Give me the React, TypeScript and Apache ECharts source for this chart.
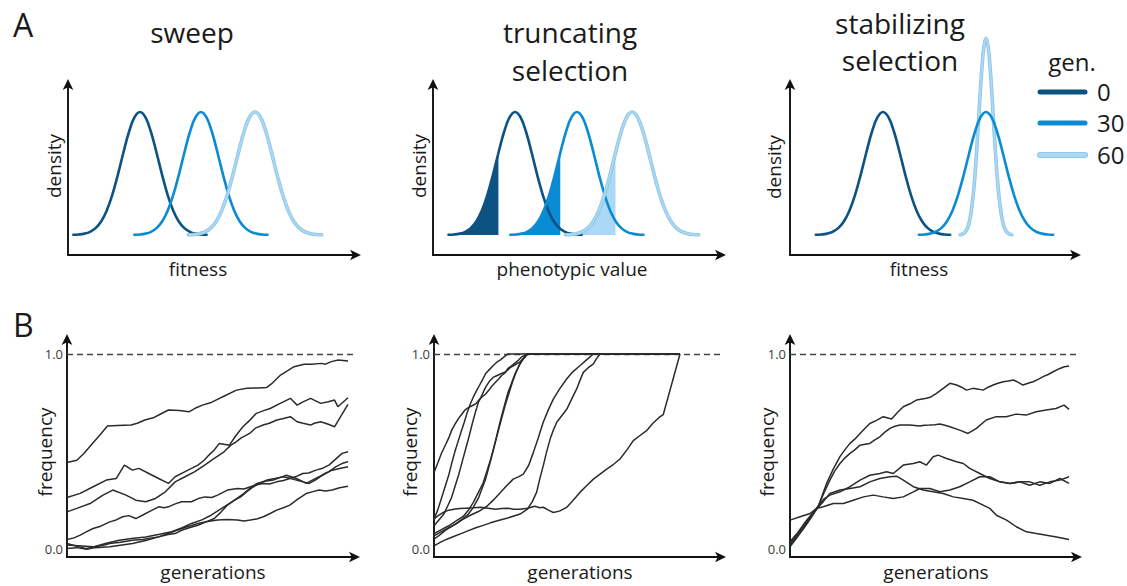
import React, { useEffect, useRef } from 'react';
import * as echarts from 'echarts';

// ---------- data ----------
// standard bell profile (z in sd units, relative height)
const bellZ = [-3.6, -3.3, -3.0, -2.7, -2.4, -2.1, -1.8, -1.5, -1.2, -0.9, -0.6, -0.3, 0, 0.3, 0.6, 0.9, 1.2, 1.5, 1.8, 2.1, 2.4, 2.7, 3.0, 3.3, 3.6];
const bellH = [0.0015, 0.0043, 0.0111, 0.0261, 0.0561, 0.1103, 0.1979, 0.3247, 0.4868, 0.667, 0.8353, 0.956, 1, 0.956, 0.8353, 0.667, 0.4868, 0.3247, 0.1979, 0.1103, 0.0561, 0.0261, 0.0111, 0.0043, 0.0015];

const generations = ['0', '30', '60'];

const sweepCenters = [24.9, 46.0, 64.7];
const sweepSd = [6.4, 6.4, 6.4];
const sweepHeight = [1, 1, 1];

const truncCenters = [28.4, 49.8, 68.9];
const truncSd = [6.4, 6.4, 6.4];
const truncHeight = [1, 1, 1];
const truncCutZ = -0.9;

const stabCenters = [32.4, 68.3, 68.3];
const stabSd = [6.5, 6.5, 2.5];
const stabHeight = [1, 1, 1.6];

const yTickValues = [0, 1];

const sweepRuns: number[][][] = [
  [[0,0.444],[3.5,0.456],[6,0.49],[9,0.54],[12,0.59],[14.4,0.631],[18,0.634],[22.8,0.636],[25,0.645],[27.7,0.662],[31,0.675],[33,0.69],[36.1,0.713],[40,0.71],[43.4,0.704],[46,0.725],[48.2,0.738],[51,0.75],[53,0.764],[56,0.785],[60.3,0.815],[64,0.824],[68,0.826],[71.1,0.829],[73,0.85],[76,0.892],[78,0.91],[80.8,0.935],[84.4,0.947],[87,0.947],[90.5,0.952],[92,0.948],[94.1,0.961],[96.5,0.969],[100,0.964]],
  [[0,0.265],[4.7,0.286],[9.3,0.32],[14,0.354],[17.5,0.362],[20.4,0.431],[23.3,0.405],[25.6,0.414],[29.1,0.388],[32.6,0.362],[36.1,0.337],[38.5,0.371],[42,0.397],[46.6,0.431],[48.9,0.457],[50.5,0.482],[52.4,0.508],[54.2,0.542],[57.8,0.533],[60,0.58],[62.6,0.627],[65,0.66],[67.4,0.696],[70,0.71],[72.3,0.721],[75.9,0.747],[79.5,0.773],[81.9,0.738],[84,0.755],[86.7,0.773],[90.3,0.747],[93,0.755],[95.2,0.764],[96.4,0.73],[100,0.776]],
  [[0,0.191],[3.5,0.209],[8.2,0.234],[12.8,0.277],[16.3,0.303],[21,0.277],[24.5,0.251],[28,0.243],[31.5,0.26],[35,0.294],[38.5,0.345],[42,0.371],[45.5,0.397],[49,0.431],[52.4,0.465],[55.9,0.499],[58.3,0.533],[60.2,0.55],[62,0.57],[65,0.593],[67,0.62],[69.8,0.636],[72,0.645],[74.7,0.662],[77,0.67],[79.5,0.679],[81.9,0.653],[84,0.645],[86.7,0.636],[88,0.645],[90.3,0.653],[93,0.64],[95.2,0.627],[97,0.67],[100,0.742]],
  [[0,0.05],[2.5,0.058],[4.7,0.072],[7,0.09],[9.3,0.106],[12,0.118],[15.2,0.14],[17.5,0.15],[19.8,0.166],[22,0.172],[24.5,0.157],[27,0.175],[29.1,0.191],[32.6,0.217],[34.5,0.212],[36.1,0.217],[38.5,0.232],[40.8,0.243],[44.3,0.243],[46.5,0.258],[49,0.268],[51.5,0.265],[53.6,0.277],[57.1,0.303],[60.6,0.311],[63,0.308],[65.3,0.32],[67.5,0.33],[69.9,0.337],[72,0.334],[74.6,0.345],[77,0.352],[79.3,0.362],[81.5,0.372],[83.9,0.388],[86,0.39],[88.6,0.405],[91,0.415],[93.2,0.431],[95.5,0.46],[97.9,0.491],[100,0.499]],
  [[0,0.029],[3.5,0.015],[7,0.003],[10,0.012],[13,0.02],[15.2,0.029],[19,0.035],[23.3,0.046],[27,0.05],[30,0.058],[32.6,0.063],[36,0.075],[38.5,0.08],[40.8,0.097],[43.5,0.11],[46.6,0.123],[49.5,0.14],[52.4,0.157],[54.8,0.19],[57.1,0.226],[59.5,0.25],[61.8,0.268],[64,0.295],[66.4,0.32],[68.8,0.34],[71.1,0.354],[74,0.362],[76.9,0.371],[79,0.365],[81.6,0.354],[84,0.345],[86.2,0.337],[88.5,0.355],[90.9,0.379],[93,0.395],[95.6,0.422],[98,0.44],[100,0.448]],
  [[0,0.021],[4,0.018],[9.3,0.012],[14,0.03],[18.6,0.046],[23,0.055],[28,0.063],[32.5,0.075],[37.3,0.089],[41,0.11],[44.3,0.132],[48,0.15],[51.3,0.174],[53.5,0.195],[55.9,0.217],[59.5,0.25],[62.9,0.285],[65.3,0.315],[67.6,0.337],[70.5,0.348],[73.4,0.354],[76,0.368],[78.1,0.379],[80,0.37],[81.6,0.362],[83.5,0.35],[85.1,0.337],[87.5,0.355],[89.7,0.371],[92,0.39],[94.4,0.405],[97,0.413],[100,0.422]],
  [[0,0.003],[3.5,0.008],[7,0],[10,0.008],[15.2,0.012],[19,0.02],[23.3,0.029],[28,0.045],[32.6,0.063],[36.5,0.083],[40.8,0.106],[44,0.12],[46.6,0.132],[50,0.142],[53.6,0.149],[57,0.152],[60.6,0.149],[63,0.145],[65.3,0.149],[67.5,0.155],[69.9,0.166],[72.3,0.183],[74.6,0.2],[77,0.212],[79.3,0.226],[82,0.255],[85.1,0.285],[87.5,0.295],[89.7,0.303],[92,0.298],[94.4,0.303],[97,0.315],[100,0.323]],
];

const truncRuns: number[][][] = [
  [[0,0.393],[1.5,0.44],[3,0.49],[4.5,0.53],[6,0.57],[7.2,0.61],[8.5,0.64],[10,0.67],[11.2,0.69],[12.5,0.712],[14,0.725],[15.5,0.735],[17,0.745],[18.3,0.765],[19.5,0.78],[21,0.795],[22,0.81],[23.5,0.835],[25,0.855],[26.3,0.872],[27.5,0.89],[29,0.905],[30,0.925],[31.5,0.94],[33,0.955],[34.5,0.97],[35.6,0.985],[38.4,1],[100,1]],
  [[0,0.154],[1.5,0.2],[3,0.26],[4.5,0.32],[6,0.38],[7.2,0.44],[8.5,0.5],[10,0.56],[11,0.6],[12.3,0.65],[13.5,0.7],[14.8,0.745],[16,0.78],[17.2,0.81],[18.5,0.84],[19.8,0.87],[21,0.9],[22.5,0.92],[24,0.94],[25.5,0.958],[27,0.97],[28.5,0.985],[30,1],[100,1]],
  [[0,0.12],[2,0.15],[4,0.18],[5.5,0.22],[7,0.26],[8.5,0.32],[10,0.38],[11.5,0.45],[13,0.52],[14.3,0.58],[15.5,0.64],[16.8,0.7],[18,0.75],[19.5,0.79],[21,0.83],[22.5,0.86],[24,0.88],[25.7,0.89],[27.5,0.9],[29.2,0.91],[31,0.93],[33,0.945],[35,0.96],[36.5,0.98],[38,1],[100,1]],
  [[0,0.051],[2.5,0.075],[5,0.1],[7.5,0.12],[10,0.14],[12,0.16],[14,0.18],[16,0.215],[18,0.26],[19.5,0.31],[21,0.36],[22.5,0.43],[24,0.5],[25.5,0.58],[27,0.66],[28.5,0.73],[30,0.8],[31.5,0.85],[33,0.9],[34.5,0.94],[36,0.97],[38,1],[100,1]],
  [[0,0.08],[3,0.1],[6,0.12],[9,0.145],[12,0.17],[14,0.2],[16,0.24],[18,0.29],[20,0.34],[21.5,0.4],[23,0.46],[24.5,0.53],[26,0.6],[27.5,0.67],[29,0.74],[30.5,0.8],[32,0.86],[33.5,0.91],[35,0.95],[36.5,0.98],[38,1],[100,1]],
  [[0,0.068],[3,0.09],[6,0.11],[9,0.13],[11.9,0.154],[15,0.175],[18.7,0.197],[21.5,0.22],[24,0.25],[27,0.29],[29.5,0.325],[32.2,0.359],[34.5,0.372],[36.3,0.385],[38.5,0.43],[40.4,0.496],[42.5,0.575],[44.4,0.65],[46.5,0.715],[48.5,0.769],[51,0.82],[53.9,0.872],[56.5,0.91],[59.3,0.94],[62,0.97],[64.8,1],[100,1]],
  [[0,0.017],[2.5,0.035],[5,0.05],[8,0.065],[11,0.08],[14,0.095],[17,0.11],[20,0.122],[23,0.135],[26.5,0.148],[30,0.16],[32.5,0.17],[35,0.18],[38,0.205],[40,0.245],[41.7,0.291],[43,0.36],[44.4,0.427],[45.8,0.5],[47.2,0.564],[48.5,0.61],[49.9,0.65],[52,0.685],[54,0.718],[56,0.77],[58,0.821],[59.5,0.87],[60.7,0.906],[62.7,0.93],[64.8,0.949],[66,0.975],[67.5,1],[100,1]],
  [[0,0.154],[2,0.175],[4,0.19],[6,0.2],[8,0.205],[10.5,0.208],[13,0.21],[16,0.212],[19,0.215],[22,0.21],[25,0.205],[27.5,0.208],[30,0.21],[32.5,0.205],[35,0.205],[38,0.21],[41,0.22],[43,0.212],[44.4,0.215],[46.5,0.2],[48.5,0.188],[51,0.195],[53.9,0.214],[56.5,0.25],[59.3,0.291],[62,0.325],[64.8,0.359],[67.5,0.385],[70.2,0.41],[73,0.435],[75.6,0.462],[78.5,0.51],[81,0.556],[83.5,0.58],[86.4,0.607],[89,0.645],[91.5,0.675],[93.2,0.69],[100,1]],
];

const stabRuns: number[][][] = [
  [[0,0.012],[2.5,0.06],[5,0.11],[7.5,0.16],[10.1,0.217],[13.1,0.337],[15.5,0.41],[17.9,0.474],[19.7,0.51],[21.5,0.542],[23.3,0.565],[25.1,0.593],[26.9,0.62],[28.6,0.644],[31,0.66],[33.4,0.679],[36.4,0.667],[38.5,0.7],[40.6,0.73],[43,0.745],[45.3,0.764],[48.9,0.773],[50.5,0.78],[52.5,0.798],[54.9,0.824],[57.3,0.85],[59.7,0.841],[61.5,0.83],[63.2,0.815],[65.6,0.824],[67.5,0.82],[69.2,0.815],[71,0.83],[72.8,0.841],[74.5,0.85],[76.4,0.858],[78.2,0.862],[80,0.867],[81.8,0.855],[83.5,0.841],[85.3,0.85],[87.1,0.858],[88.9,0.87],[90.7,0.884],[92.5,0.895],[94.3,0.909],[96.7,0.926],[98.3,0.935],[100,0.938]],
  [[0,0.038],[2.5,0.08],[5,0.13],[7.5,0.175],[10.1,0.22],[12.2,0.29],[14.3,0.354],[16,0.4],[17.9,0.439],[19.7,0.468],[21.5,0.491],[23.3,0.51],[25.1,0.533],[26.9,0.538],[28.6,0.542],[30.4,0.56],[32.2,0.576],[34,0.6],[35.8,0.619],[37.6,0.63],[39.4,0.636],[42.9,0.636],[46.5,0.631],[48.2,0.635],[50.1,0.636],[51.9,0.638],[53.7,0.641],[55.5,0.635],[57.3,0.627],[60.8,0.61],[63.8,0.593],[66.8,0.619],[70.3,0.662],[73.9,0.679],[77.5,0.679],[81,0.692],[84.6,0.687],[88.2,0.704],[91.8,0.713],[95.3,0.721],[98.2,0.738],[100,0.716]],
  [[0,0.021],[2.5,0.065],[5,0.11],[7.5,0.165],[10.1,0.222],[12,0.255],[14.3,0.277],[17.9,0.294],[21.5,0.32],[25.1,0.354],[28.6,0.379],[32.2,0.388],[34.6,0.397],[37,0.388],[40.6,0.431],[44.2,0.439],[46.5,0.448],[48.9,0.431],[51.3,0.474],[53.1,0.482],[56.1,0.465],[59.7,0.448],[62.1,0.439],[64.4,0.414],[68,0.388],[71.6,0.362],[75.2,0.345],[78.8,0.337],[82.3,0.345],[85.9,0.328],[89.5,0.345],[93.1,0.337],[96.7,0.362],[100,0.337]],
  [[0,0.029],[2.5,0.075],[5,0.12],[7.5,0.17],[10.1,0.215],[12,0.245],[14.3,0.285],[17.9,0.303],[21.5,0.311],[25.1,0.32],[28.6,0.345],[32.2,0.362],[35.8,0.371],[38.2,0.374],[40.6,0.354],[44.2,0.32],[47.7,0.303],[51.3,0.294],[54.9,0.285],[58.5,0.268],[62.1,0.26],[65.6,0.251],[69.2,0.226],[71.6,0.209],[74,0.174],[77.6,0.149],[81.1,0.115],[84.7,0.089],[88.3,0.08],[91.9,0.072],[95.5,0.063],[100,0.05]],
  [[0,0.149],[3.6,0.166],[7.2,0.183],[9.5,0.209],[11.9,0.217],[15.5,0.234],[19.1,0.234],[22.7,0.251],[26.3,0.268],[29.8,0.277],[33.4,0.268],[37,0.26],[40.6,0.268],[44.2,0.294],[46.5,0.311],[50.1,0.311],[53.7,0.294],[57.3,0.303],[60.8,0.32],[64.4,0.345],[68,0.371],[71.6,0.371],[75.2,0.345],[78.8,0.337],[82.3,0.345],[85.9,0.345],[89.5,0.328],[93.1,0.345],[96.7,0.354],[100,0.371]],
];

// ---------- styling ----------
const FONT = "'Open Sans', 'Noto Sans', sans-serif";
const INK = '#1a1a1a';
const GEN_COLORS = ['#0c5282', '#0a8bd3', '#aad8f5'];
const LIGHT_EDGE = '#8dc3e3';
const RUN_COLOR = '#2b2b2b';

const bellPoints = (c: number, sd: number, h: number, maxZ = Infinity) =>
  bellZ
    .map((z, i) => [c + z * sd, bellH[i] * h, z])
    .filter((p) => p[2] <= maxZ + 1e-9)
    .map((p) => [p[0], p[1]]);

const axisLineStyle = {
  show: true,
  onZero: false,
  symbol: ['none', 'arrow'],
  symbolSize: [8, 11],
  symbolOffset: [0, 4],
  lineStyle: { color: '#111', width: 1.9 },
};

const topGrids = [
  { left: 68, top: 83, width: 289, height: 172 },
  { left: 433, top: 83, width: 289, height: 172 },
  { left: 790, top: 83, width: 287, height: 172 },
];
const bottomGrids = [
  { left: 67, top: 338, width: 289, height: 219 },
  { left: 434, top: 338, width: 288, height: 219 },
  { left: 790, top: 338, width: 288, height: 219 },
];
const bottomXMax = [102.85, 117.07, 103.2];

function buildOption() {
  const grid: any[] = [...topGrids, ...bottomGrids].map((g) => ({ ...g, containLabel: false, outerBoundsMode: 'none' }));
  const xAxis: any[] = [];
  const yAxis: any[] = [];
  for (let i = 0; i < 3; i++) {
    xAxis.push({ type: 'value', gridIndex: i, min: 0, max: 100, axisLine: axisLineStyle, axisTick: { show: false }, axisLabel: { show: false }, splitLine: { show: false } });
    yAxis.push({ type: 'value', gridIndex: i, min: -0.1626, max: 1.2358, axisLine: axisLineStyle, axisTick: { show: false }, axisLabel: { show: false }, splitLine: { show: false } });
  }
  for (let i = 0; i < 3; i++) {
    xAxis.push({ type: 'value', gridIndex: 3 + i, min: 0, max: bottomXMax[i], axisLine: axisLineStyle, axisTick: { show: false }, axisLabel: { show: false }, splitLine: { show: false } });
    yAxis.push({
      type: 'value', gridIndex: 3 + i, min: -0.04, max: 1.082,
      axisLine: axisLineStyle, axisTick: { show: false }, splitLine: { show: false },
      axisLabel: { show: true, customValues: yTickValues, formatter: (v: number) => v.toFixed(1), margin: 4, fontFamily: FONT, fontSize: 13, color: '#3a3a3a' },
    });
  }

  const series: any[] = [];
  const curve = (idx: number, data: number[][], color: string, width: number, name: string) => ({
    type: 'line', name, xAxisIndex: idx, yAxisIndex: idx, data, smooth: 0.4, symbol: 'none', clip: false, silent: true,
    lineStyle: { color, width, cap: 'round' },
  });
  const densityPanel = (idx: number, centers: number[], sds: number[], heights: number[], order: number[]) => {
    order.forEach((g) => {
      const pts = bellPoints(centers[g], sds[g], heights[g]);
      if (g === 2) {
        series.push(curve(idx, pts, LIGHT_EDGE, 3.6, 'gen 60 edge'));
        series.push(curve(idx, pts, GEN_COLORS[2], 2, 'gen ' + generations[g]));
      } else {
        series.push(curve(idx, pts, GEN_COLORS[g], 2.6, 'gen ' + generations[g]));
      }
    });
  };

  // A: sweep
  densityPanel(0, sweepCenters, sweepSd, sweepHeight, [0, 1, 2]);
  // A: truncating selection – shaded truncated tails first
  [0, 1, 2].forEach((g) => {
    series.push({
      type: 'line', name: 'truncated ' + generations[g], xAxisIndex: 1, yAxisIndex: 1,
      data: bellPoints(truncCenters[g], truncSd[g], truncHeight[g], truncCutZ),
      smooth: 0.4, symbol: 'none', silent: true,
      lineStyle: { width: 0, color: GEN_COLORS[g] },
      areaStyle: { color: GEN_COLORS[g], opacity: 1, origin: 0 },
    });
  });
  densityPanel(1, truncCenters, truncSd, truncHeight, [0, 1, 2]);
  // A: stabilizing selection
  densityPanel(2, stabCenters, stabSd, stabHeight, [0, 2, 1]);

  // B: trajectories
  [sweepRuns, truncRuns, stabRuns].forEach((runs, p) => {
    const idx = 3 + p;
    runs.forEach((r, k) => {
      const s: any = {
        type: 'line', name: 'run ' + (k + 1), xAxisIndex: idx, yAxisIndex: idx, data: r, symbol: 'none', silent: true,
        lineStyle: { color: RUN_COLOR, width: 1.5 },
      };
      if (k === 0) {
        s.markLine = {
          silent: true, symbol: 'none', label: { show: false },
          lineStyle: { type: [6, 4], color: '#444', width: 1.3 },
          data: [{ yAxis: 1 }],
          z: 1,
        };
      }
      series.push(s);
    });
  });

  const txt = (text: string, x: number, y: number, size: number, opts: any = {}) => ({
    type: 'text', x, y, rotation: opts.rotation || 0, silent: true,
    style: { text, fontSize: size, fontFamily: FONT, fill: INK, align: opts.align || 'center', verticalAlign: 'middle', lineHeight: opts.lineHeight },
  });
  const R = Math.PI / 2;
  const graphic: any[] = [
    txt('A', 13, 24, 32, { align: 'left' }),
    txt('B', 13, 324, 32, { align: 'left' }),
    txt('sweep', 192, 32, 28),
    txt('truncating\nselection', 570, 51, 28, { lineHeight: 38 }),
    txt('stabilizing\nselection', 900, 41, 28, { lineHeight: 37 }),
    txt('density', 54, 166, 19, { rotation: R }),
    txt('density', 419, 166, 19, { rotation: R }),
    txt('density', 774, 167, 19, { rotation: R }),
    txt('fitness', 198, 269, 19),
    txt('phenotypic value', 572, 269, 19),
    txt('fitness', 919, 269, 19),
    txt('frequency', 45, 452, 19, { rotation: R }),
    txt('frequency', 410, 452, 19, { rotation: R }),
    txt('frequency', 767, 452, 19, { rotation: R }),
    txt('generations', 213, 572, 19),
    txt('generations', 580, 572, 19),
    txt('generations', 936, 572, 19),
    txt('gen.', 1072, 61, 24),
  ];
  const legendY = [92, 123, 155];
  generations.forEach((g, i) => {
    if (i === 2) {
      graphic.push({ type: 'line', silent: true, shape: { x1: 1040, y1: legendY[i], x2: 1085, y2: legendY[i] }, style: { stroke: LIGHT_EDGE, lineWidth: 6, lineCap: 'round' } });
    }
    graphic.push({ type: 'line', silent: true, shape: { x1: 1040, y1: legendY[i], x2: 1085, y2: legendY[i] }, style: { stroke: GEN_COLORS[i], lineWidth: i === 2 ? 4.5 : 5, lineCap: 'round' } });
    graphic.push(txt(g, 1097, legendY[i] - 1, 24, { align: 'left' }));
  });

  return { animation: false, backgroundColor: '#fff', grid, xAxis, yAxis, series, graphic };
}

export default function App() {
  const ref = useRef<HTMLDivElement>(null);
  useEffect(() => {
    const chart = echarts.init(ref.current!, null, { renderer: 'svg' });
    chart.setOption(buildOption() as any);
    return () => chart.dispose();
  }, []);
  return <div ref={ref} style={{ position: 'absolute', left: 0, top: 0, width: 1127, height: 586, background: '#fff' }} />;
}
